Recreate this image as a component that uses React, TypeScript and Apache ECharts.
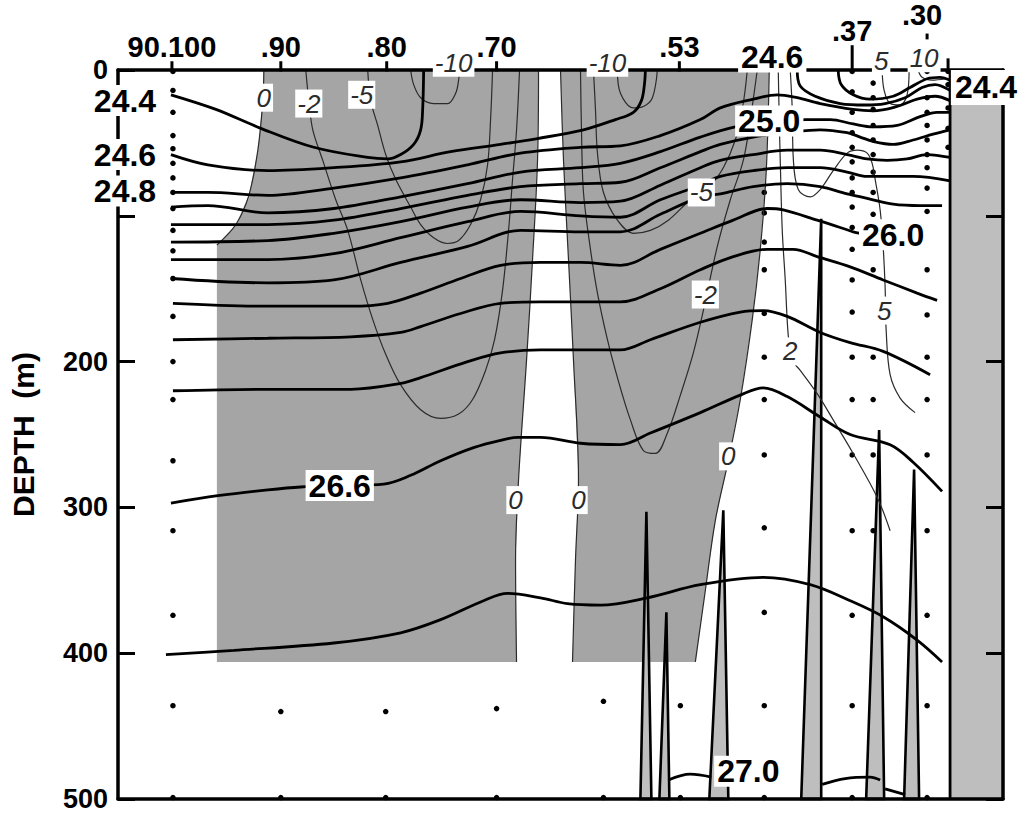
import React, { useEffect, useRef } from "react";
import * as echarts from "echarts";

const FONT = "'Liberation Sans', Arial, Helvetica, sans-serif";

// ---- axes (distance along section, depth in m) ----
const distMax = 886;
const depthMax = 500;

// ---- stations (top axis) ----
const stationNames = ["90.100", ".90", ".80", ".70", ".53", ".37", ".30"];
const stationLabelPos = [[54, -16], [163, -16], [269, -16], [379, -16], [562, -16], [735, -27], [805, -38]];
const stationTicks = [[54, -6, 1], [163, -6, 1], [269, -6, 1], [379, -6, 1], [562, -6, 1], [735, -17, 1], [831, -8, 1], [810, -25, -21]];

// ---- isopycnals (sigma-theta), [distance, depth] ----
const iso244West = [[53,17],[98,27],[143,40],[196,53],[250,60],[270,61],[283,58],[296,51],[303,41],[305,27],[306,0]];
const iso246West = [[53,58],[90,65],[150,69],[216,67],[283,63],[333,56],[383,51],[420,47],[466,41],[498,34],[516,29],[524,21],[527,10],[528,0]];
const iso248 = [[53,84],[90,84],[150,86],[216,81],[283,74],[350,65],[403,57],[463,53],[503,52],[543,45],[583,34],[603,26],[636,20],[660,17],[680,19],[703,23],[736,27],[756,28],[780,25],[800,20],[818,18],[833,21]];
const iso250 = [[53,94],[90,93],[150,98],[216,95],[283,87],[350,78],[403,70],[463,67],[503,64],[543,56],[583,46],[618,39],[652,36],[688,34],[713,34],[736,37],[756,39],[780,38],[803,32],[820,29],[833,29]];
const iso252 = [[53,106],[150,106],[216,103],[283,95],[350,86],[403,80],[463,78],[503,77],[543,67],[583,56],[603,51],[636,46],[670,43],[703,41],[730,43],[743,46],[756,49],[776,51],[796,48],[816,44],[833,41]];
const iso254 = [[53,118],[150,117],[216,112],[283,104],[350,94],[403,89],[463,91],[503,90],[543,79],[583,67],[603,62],[636,58],[670,55],[703,55],[730,58],[750,61],[770,62],[790,61],[810,58],[833,60]];
const iso256 = [[53,130],[150,130],[216,126],[283,115],[350,104],[403,97],[463,100],[503,101],[543,89],[583,79],[603,73],[636,69],[670,67],[703,67],[730,70],[750,73],[770,73],[796,73],[833,76]];
const iso258 = [[53,143],[150,146],[216,144],[283,132],[350,121],[403,110],[463,111],[503,111],[543,99],[583,87],[603,85],[636,80],[670,78],[703,80],[730,85],[750,88],[776,92],[803,93],[825,93]];
const iso260 = [[55,160],[150,162],[233,162],[270,160],[303,153],[343,143],[383,134],[423,132],[463,132],[503,134],[543,123],[583,112],[616,103],[650,95],[666,96],[700,103],[723,108],[736,111],[743,112]];
const iso262 = [[55,185],[150,184],[233,183],[283,180],[303,176],[343,167],[383,160],[423,159],[463,159],[503,159],[543,150],[583,137],[616,128],[650,123],[676,123],[700,128],[733,135],[766,144],[800,153],[820,158]];
const iso264 = [[55,220],[150,219],[233,219],[283,215],[303,211],[350,200],[383,194],[423,192],[463,192],[503,192],[533,185],[583,173],[623,166],[646,165],[670,169],[703,180],[733,187],[766,193],[813,209]];
const iso266 = [[53,297],[100,292],[150,288],[183,286],[223,285],[266,284],[293,278],[323,268],[356,259],[383,254],[400,252],[423,252],[463,256],[503,257],[533,249],[583,235],[623,223],[646,218],[670,224],[703,238],[733,250],[773,257],[796,269],[825,289]];
const iso268 = [[48,401],[116,398],[216,393],[283,386],[323,377],[366,364],[390,359],[423,362],[450,366],[483,367],[530,362],[583,353],[646,348],[693,353],[733,364],[766,375],[800,391],[825,406]];
const iso246East = [[680,0],[683,11],[698,18],[723,23],[748,24],[768,23],[788,19],[805,12],[818,10],[833,14]];
const iso244East = [[721,0],[724,10],[736,17],[753,20],[776,18],[793,12],[810,6],[823,5],[833,7]];
const iso270a = [[551,487],[573,483],[594,485]];
const iso270b = [[705,490],[728,486],[753,485],[763,487]];
const iso270c = [[768,493],[788,497]];
const landEdge = [[833,0],[833,500]];

// ---- velocity contours (cm/s), thin lines ----
const vel0NW = [[146,0],[145,21],[140,55],[131,86],[118,106],[99,120]];
const velm2W = [[188,0],[191,21],[195,41],[205,62],[218,89],[230,110],[243,144],[255,171],[268,195],[283,216],[303,233],[323,239],[341,236],[355,226],[368,206],[377,185],[385,151],[391,110],[395,75],[399,41],[402,0]];
const velm5W = [[250,0],[253,21],[260,38],[268,58],[278,75],[293,94],[303,106],[316,115],[330,119],[341,117],[353,106],[363,89],[370,65],[373,34],[375,0]];
const velm10W = [[293,0],[296,10],[303,19],[316,23],[330,23],[338,16],[341,7],[342,0]];
const vel0GapW = [[421,0],[420,62],[415,130],[409,199],[401,281],[398,336],[399,406]];
const vel0GapE = [[443,0],[446,62],[451,130],[456,199],[461,281],[458,336],[455,406]];
const velm2C = [[463,0],[464,41],[466,84],[473,123],[480,153],[490,185],[500,211],[513,240],[526,261],[538,263],[550,249],[563,223],[576,194],[586,165],[600,121],[613,89],[626,62],[633,34],[640,0]];
const velm5C = [[476,0],[478,27],[480,57],[486,84],[500,103],[516,112],[533,110],[551,103],[573,89],[593,79],[606,67],[618,48],[625,27],[630,0]];
const velm10C = [[500,0],[503,16],[516,26],[526,25],[535,19],[540,0]];
const vel0E = [[652,0],[649,69],[643,123],[635,171],[623,226],[611,268],[598,309],[588,357],[578,406]];
const vel2E = [[661,0],[662,34],[663,62],[665,110],[668,144],[671,182],[675,199],[683,206],[700,222],[716,240],[736,263],[760,293],[773,316]];
const vel5E = [[673,0],[675,27],[676,60],[681,82],[693,87],[703,82],[716,69],[730,57],[740,55],[750,57],[755,64],[758,75],[763,96],[766,121],[768,149],[769,178],[773,209],[783,225],[798,235]];
const vel5Top = [[765,0],[767,14],[773,23],[783,24],[790,17],[792,0]];
const vel10Top = [[801,0],[805,5],[815,7],[828,6]];

// ---- shaded (negative flow) regions and land ----
const shadeWest = [[146,0],[145,21],[140,55],[131,86],[118,106],[99,120],[99,406],[399,406],[398,336],[401,281],[409,199],[415,130],[420,62],[421,0]];
const shadeCentral = [[443,0],[446,62],[451,130],[456,199],[461,281],[458,336],[455,406],[578,406],[588,357],[598,309],[611,268],[623,226],[635,171],[643,123],[649,69],[652,0]];
const landEast = [[833,0],[886,0],[886,500],[833,500]];

// ---- bottom spikes ----
const spikeApexDist = [529, 549, 606, 704, 762, 797];
const spikeApexDepth = [303, 372, 302, 102, 247, 274];
const spikeBaseLeft = [523, 542, 592, 684, 749, 787];
const spikeBaseRight = [534, 552, 611, 704, 767, 802];

// ---- sample (bottle) positions ----
const cast90_100Dist = 55;
const cast90_100Depths = [1,14,29,45,54,64,74,84,95,110,124,143,169,200,226,268,316,374,436,499];
const deepCastDist = [163, 268, 379, 486, 563];
const deepCastDepthsA = [440, 440, 438, 433, 436];
const deepCastDepthB = 499;
const castEast1Dist = 647;
const castEast1Depths = [84,98,118,137,167,197,226,264,314,372,436,499];
const castEast2Dist = 735;
const castEast2Depths = [1,15,29,43,53,63,74,84,94,108,123,144,166,197,226,264,316,374,436,499];
const castEast3Dist = 756;
const castEast3Depths = [9,19,27,38,48,58,70,84,99,137,197,226,264,316];
const castEast4Dist = 810;
const castEast4Depths = [1,19,29,38,48,58,67,81,97,137,168,197,226,264,316,374,436,499];
const castEast5Dist = 831;
const castEast5Depths = [1,10,26,40,53];

// ---- labels ----
const contourLabelText = ["24.4", "24.6", "24.8", "24.6", "24.4", "25.0", "26.0", "26.6", "27.0"];
const contourLabelPos = [[7,21],[7,58],[7,83],[655,-9],[871,12],[652,35],[776,113],[222,285],[631,481]];
const velLabelText = ["0", "-2", "-5", "-10", "-10", "0", "0", "-5", "-2", "0", "2", "5", "5", "10"];
const velLabelPos = [[146,19],[191,23],[244,17],[336,-5],[490,-5],[398,295],[461,295],[584,84],[588,154],[611,265],[673,193],[767,165],[764,-6],[807,-8]];

const SHADE = "#a5a5a5";
const LAND = "#bebebe";

function buildOption() {
  const thick = [iso244West, iso246West, iso248, iso250, iso252, iso254, iso256, iso258, iso260, iso262, iso264, iso266, iso268, iso246East, iso244East, iso270a, iso270b, iso270c, landEdge];
  const thin = [vel0NW, velm2W, velm5W, velm10W, vel0GapW, vel0GapE, velm2C, velm5C, velm10C, vel0E, vel2E, vel5E, vel5Top, vel10Top];
  const polys = [shadeWest, shadeCentral, landEast];
  const polyFill = [SHADE, SHADE, LAND];

  const dots: number[][] = [];
  cast90_100Depths.forEach((d) => dots.push([cast90_100Dist, d]));
  deepCastDist.forEach((x, i) => { dots.push([x, deepCastDepthsA[i]]); dots.push([x, deepCastDepthB]); });
  castEast1Depths.forEach((d) => dots.push([castEast1Dist, d]));
  castEast2Depths.forEach((d) => dots.push([castEast2Dist, d]));
  castEast3Depths.forEach((d) => dots.push([castEast3Dist, d]));
  castEast4Depths.forEach((d) => dots.push([castEast4Dist, d]));
  castEast5Depths.forEach((d) => dots.push([castEast5Dist, d]));

  const spikes = spikeApexDist.map((x, i) => [x, spikeApexDepth[i], spikeBaseLeft[i], spikeBaseRight[i]]);

  const series: any[] = [];
  series.push({
    type: "custom", z: 1, silent: true,
    data: polys.map((p) => p[0]),
    renderItem: (params: any, api: any) => ({
      type: "polygon",
      shape: { points: polys[params.dataIndex].map((p) => api.coord(p)) },
      style: { fill: polyFill[params.dataIndex], stroke: null },
    }),
  });
  series.push({
    type: "scatter", z: 2, silent: true, symbolSize: 5.5,
    itemStyle: { color: "#000", opacity: 1 }, data: dots,
  });
  series.push({
    type: "custom", z: 2, silent: true,
    data: spikes,
    renderItem: (params: any, api: any) => {
      const a = api.coord([api.value(2), depthMax]);
      const t = api.coord([api.value(0), api.value(1)]);
      const b = api.coord([api.value(3), depthMax]);
      return {
        type: "polygon",
        shape: { points: [a, t, b] },
        style: { fill: LAND, stroke: "#000", lineWidth: 2.6, lineJoin: "miter" },
      };
    },
  });
  thin.forEach((d) => series.push({
    type: "line", z: 3, silent: true, symbol: "none", smooth: 0.35,
    lineStyle: { color: "#2b2b2b", width: 1.2 }, data: d,
  }));
  thick.forEach((d) => series.push({
    type: "line", z: 4, silent: true, symbol: "none", smooth: 0.35,
    lineStyle: { color: "#000", width: 2.8 }, data: d,
  }));
  series.push({
    type: "custom", z: 6, silent: true,
    data: stationTicks,
    renderItem: (params: any, api: any) => {
      const a = api.coord([api.value(0), api.value(1)]);
      const b = api.coord([api.value(0), api.value(2)]);
      return { type: "line", shape: { x1: a[0], y1: a[1], x2: b[0], y2: b[1] }, style: { stroke: "#000", lineWidth: 3 } };
    },
  });
  const labelBase = {
    type: "scatter", z: 10, silent: true, clip: false, symbolSize: 1,
    itemStyle: { color: "rgba(0,0,0,0)", opacity: 1 },
  };
  series.push({
    ...labelBase,
    data: stationNames.map((t, i) => ({ name: t, value: stationLabelPos[i] })),
    label: { show: true, position: "inside", formatter: "{b}", fontFamily: FONT, fontWeight: "bold", fontSize: 29, color: "#000" },
  });
  series.push({
    ...labelBase,
    data: velLabelText.map((t, i) => ({ name: t, value: velLabelPos[i] })),
    label: {
      show: true, position: "inside", formatter: "{b}", fontFamily: FONT, fontStyle: "italic", fontSize: 26,
      lineHeight: 28, color: "#2b2b2b", backgroundColor: "#fff", padding: [0, 2],
    },
  });
  series.push({
    ...labelBase,
    data: contourLabelText.map((t, i) => ({
      name: t, value: contourLabelPos[i],
      label: contourLabelPos[i][0] > 860 ? { padding: [3, 8, 3, 4] } : undefined,
    })),
    label: {
      show: true, position: "inside", formatter: "{b}", fontFamily: FONT, fontWeight: "bold", fontSize: 32,
      lineHeight: 29, color: "#000", backgroundColor: "#fff", padding: [1, 3],
    },
  });

  const axisLine = { show: true, onZero: false, lineStyle: { color: "#000", width: 3.5 } };
  return {
    animation: false,
    backgroundColor: "#fff",
    grid: { left: 117, right: 24, top: 70, bottom: 18, containLabel: false },
    xAxis: [
      { type: "value", position: "top", min: 0, max: distMax, z: 5, axisLine, axisTick: { show: false }, axisLabel: { show: false }, splitLine: { show: false } },
      { type: "value", position: "bottom", min: 0, max: distMax, z: 5, axisLine, axisTick: { show: false }, axisLabel: { show: false }, splitLine: { show: false } },
    ],
    yAxis: [
      {
        type: "value", inverse: true, min: 0, max: depthMax, interval: 100, position: "left", z: 5,
        name: "DEPTH  (m)", nameLocation: "middle", nameRotate: 90, nameGap: 80,
        nameTextStyle: { fontFamily: FONT, fontWeight: "bold", fontSize: 30, color: "#000" },
        axisLine,
        axisTick: { show: true, inside: true, length: 17, lineStyle: { color: "#000", width: 3 } },
        axisLabel: {
          show: true, margin: 10, showMinLabel: true, showMaxLabel: true,
          fontFamily: FONT, fontWeight: "bold", fontSize: 27, color: "#000",
          formatter: (v: number) => (v === 100 ? "" : String(v)),
        },
        splitLine: { show: false },
      },
      {
        type: "value", inverse: true, min: 0, max: depthMax, interval: 100, position: "right", z: 5,
        axisLine,
        axisTick: { show: true, inside: true, length: 17, lineStyle: { color: "#000", width: 3 } },
        axisLabel: { show: false },
        splitLine: { show: false },
      },
    ],
    series,
  };
}

export default function App() {
  const ref = useRef<HTMLDivElement>(null);
  useEffect(() => {
    if (!ref.current) return;
    const chart = echarts.init(ref.current, undefined, { renderer: "svg" });
    chart.setOption(buildOption() as any);
    return () => chart.dispose();
  }, []);
  return (
    <div
      ref={ref}
      style={{ position: "fixed", left: 0, top: 0, width: 1027, height: 817, background: "#fff" }}
    />
  );
}
